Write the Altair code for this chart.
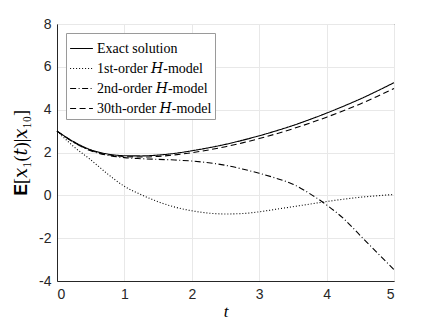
import altair as alt
import pandas as pd

t_vals = [0, 0.25, 0.5, 0.75, 1, 1.25, 1.5, 1.75, 2, 2.25, 2.5, 2.75, 3, 3.25, 3.5, 3.75, 4, 4.25, 4.5, 4.75, 5]

exact = [3.0, 2.5, 2.13, 1.93, 1.85, 1.84, 1.88, 1.96, 2.08, 2.22, 2.38, 2.57, 2.78, 3.01, 3.26, 3.54, 3.84, 4.16, 4.5, 4.87, 5.26]
first = [3.0, 2.27, 1.66, 1.0, 0.42, 0.03, -0.3, -0.55, -0.72, -0.83, -0.87, -0.85, -0.77, -0.65, -0.53, -0.41, -0.29, -0.18, -0.09, -0.02, 0.04]
second = [3.0, 2.47, 2.08, 1.87, 1.76, 1.71, 1.68, 1.65, 1.6, 1.52, 1.4, 1.23, 1.03, 0.8, 0.52, 0.08, -0.45, -1.08, -1.88, -2.68, -3.47]
thirtieth = [3.0, 2.48, 2.1, 1.9, 1.81, 1.79, 1.82, 1.89, 1.99, 2.12, 2.27, 2.45, 2.65, 2.87, 3.11, 3.37, 3.65, 3.95, 4.27, 4.62, 4.99]

names = ["Exact solution", "1st-order 𝐻-model", "2nd-order 𝐻-model", "30th-order 𝐻-model"]
dashes = [[1, 0], [1, 2], [6, 2.5, 1, 2.5], [6, 3.5]]
series = [exact, first, second, thirtieth]

rows = []
for name, vals in zip(names, series):
    for t, v in zip(t_vals, vals):
        rows.append({"t": t, "v": v, "s": name})
df = pd.DataFrame(rows)

tick_font = "Liberation Sans"
serif = "Liberation Serif, DejaVu Serif, serif"

chart = alt.Chart(df).mark_line(color="black", strokeWidth=1.1, interpolate="monotone").encode(
    x=alt.X("t:Q", scale=alt.Scale(domain=[0, 5], nice=False),
            axis=alt.Axis(values=[0, 1, 2, 3, 4, 5], title="t", titleFont=serif,
                          titleFontStyle="italic", titleFontWeight="normal", titleFontSize=17,
                          titlePadding=2)),
    y=alt.Y("v:Q", scale=alt.Scale(domain=[-4, 8], nice=False),
            axis=alt.Axis(values=[-4, -2, 0, 2, 4, 6, 8], title="𝐄[𝑥₁(𝑡)|𝑥₁₀]", titleFont=serif,
                          titleFontWeight="normal", titleFontSize=18, titlePadding=8,
                          labelExpr="replace(datum.label, '\u2212', '-')")),
    strokeDash=alt.StrokeDash("s:N", sort=names,
                              scale=alt.Scale(domain=names, range=dashes),
                              legend=alt.Legend(title=None, orient="top-left", offset=9,
                                                labelFont=serif, labelFontSize=14,
                                                labelColor="black", symbolStrokeColor="black",
                                                symbolStrokeWidth=1.2, symbolSize=520,
                                                symbolType="stroke",
                                                strokeColor="#9a9a9a", fillColor="white",
                                                padding=3, rowPadding=0, labelOffset=3,
                                                cornerRadius=0, labelLimit=300)),
).properties(
    width=337, height=257,
    autosize=alt.AutoSizeParams(type="none"),
    padding={"left": 49, "top": 16, "right": 34, "bottom": 38},
).configure_axis(
    labelFont=tick_font, labelFontSize=14, labelColor="#262626",
    titleColor="black", domainColor="#262626", tickColor="#262626",
    gridColor="#e8e8e8", ticks=False, labelPadding=6,
).configure_view(
    stroke="#262626", strokeWidth=1,
)

chart.save("out.html", embed_options={"renderer": "svg", "actions": False})
